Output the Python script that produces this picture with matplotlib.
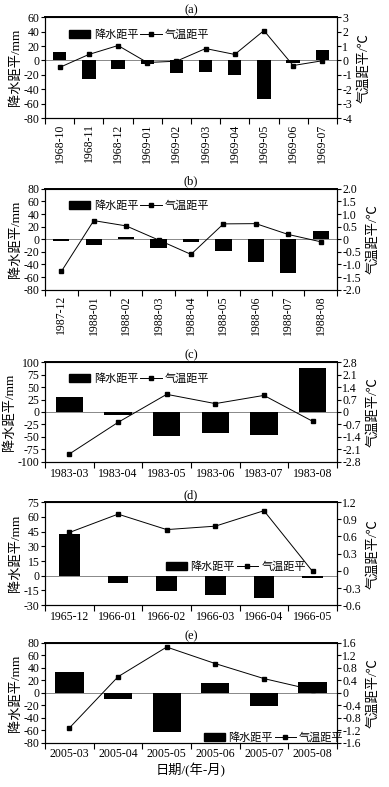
import matplotlib
matplotlib.use("Agg")
import matplotlib.pyplot as plt
from matplotlib.lines import Line2D
from matplotlib.patches import Patch
import numpy as np

plt.rcParams['font.family'] = ['Liberation Serif', 'Noto Sans CJK SC']
plt.rcParams['font.size'] = 8.5
plt.rcParams['axes.unicode_minus'] = False

# (a)
months_a = ['1968-10', '1968-11', '1968-12', '1969-01', '1969-02',
            '1969-03', '1969-04', '1969-05', '1969-06', '1969-07']
rain_a = [12, -26, -12, -5.5, -17, -16, -20, -53.5, -3, 15]
temp_a = [-0.48, 0.42, 1.04, -0.14, -0.05, 0.83, 0.42, 2.08, -0.35, -0.02]

# (b)
months_b = ['1987-12', '1988-01', '1988-02', '1988-03', '1988-04',
            '1988-05', '1988-06', '1988-07', '1988-08']
rain_b = [-2.5, -9, 3.7, -14, -4.8, -18, -35.5, -53, 12.7]
temp_b = [-1.28, 0.74, 0.53, -0.03, -0.6, 0.61, 0.62, 0.19, -0.1]

# (c)
months_c = ['1983-03', '1983-04', '1983-05', '1983-06', '1983-07', '1983-08']
rain_c = [31, -6, -48.7, -42, -46.7, 88.7]
temp_c = [-2.35, -0.58, 0.99, 0.47, 0.93, -0.52]

# (d)
months_d = ['1965-12', '1966-01', '1966-02', '1966-03', '1966-04', '1966-05']
rain_d = [42.6, -7.6, -15.2, -19.7, -22.5, -2.8]
temp_d = [0.67, 0.99, 0.72, 0.78, 1.05, -0.01]

# (e)
months_e = ['2005-03', '2005-04', '2005-05', '2005-06', '2005-07', '2005-08']
rain_e = [33.6, -10, -62.4, 15.5, -21.3, 17]
temp_e = [-1.12, 0.52, 1.47, 0.94, 0.46, 0.1]

panels = [
    dict(tag='(a)', months=months_a, rain=rain_a, temp=temp_a,
         ylim=(-80, 60), yticks=np.arange(-80, 61, 20),
         tlim=(-4, 3), tticks=np.arange(-4, 3.1, 1), tfmt='%d',
         rot=90, width=0.46, box=[0.116, 0.850, 0.750, 0.128],
         leg=(0.06, 0.95)),
    dict(tag='(b)', months=months_b, rain=rain_b, temp=temp_b,
         ylim=(-80, 80), yticks=np.arange(-80, 81, 20),
         tlim=(-2, 2), tticks=np.arange(-2, 2.01, 0.5), tfmt='%.1f',
         rot=90, width=0.5, box=[0.116, 0.632, 0.750, 0.128],
         leg=(0.06, 0.95)),
    dict(tag='(c)', months=months_c, rain=rain_c, temp=temp_c,
         ylim=(-100, 100), yticks=np.arange(-100, 101, 25),
         tlim=(-2.8, 2.8), tticks=np.arange(-2.8, 2.81, 0.7), tfmt='%.1f',
         rot=0, width=0.56, box=[0.116, 0.413, 0.750, 0.127],
         leg=(0.06, 0.95)),
    dict(tag='(d)', months=months_d, rain=rain_d, temp=temp_d,
         ylim=(-30, 75), yticks=np.arange(-30, 76, 15),
         tlim=(-0.6, 1.2), tticks=np.arange(-0.6, 1.21, 0.3), tfmt='%.1f',
         rot=0, width=0.42, box=[0.116, 0.231, 0.750, 0.131],
         leg=(0.39, 0.49)),
    dict(tag='(e)', months=months_e, rain=rain_e, temp=temp_e,
         ylim=(-80, 80), yticks=np.arange(-80, 81, 20),
         tlim=(-1.6, 1.6), tticks=np.arange(-1.6, 1.61, 0.4), tfmt='%.1f',
         rot=0, width=0.58, box=[0.116, 0.056, 0.750, 0.127],
         leg=(0.52, 0.17)),
]

fig = plt.figure(figsize=(3.89, 7.87), dpi=100)

for p in panels:
    ax = fig.add_axes(p['box'])
    n = len(p['months'])
    x = np.arange(n)
    ax.bar(x, p['rain'], width=p['width'], color='black', zorder=2)
    ax.axhline(0, color='#888888', lw=0.7, zorder=1)
    ax.set_xlim(-0.5, n - 0.5)
    ax.set_ylim(*p['ylim'])
    ax.set_yticks(p['yticks'])
    ax.set_yticklabels(['%d' % v for v in p['yticks']])
    # boundary ticks, centred labels
    ax.set_xticks(np.arange(-0.5, n, 1.0))
    ax.set_xticklabels([])
    ax.set_xticks(x, minor=True)
    ax.set_xticklabels(p['months'], minor=True, rotation=p['rot'])
    ax.tick_params(axis='x', which='minor', length=0, pad=4)
    ax.tick_params(axis='x', which='major', length=4, direction='out')
    ax.tick_params(axis='y', length=3, direction='out', pad=1)
    ax.set_ylabel('降水距平/mm', fontsize=9.5, labelpad=1)
    ax.set_title(p['tag'], fontsize=9, pad=3)
    for s in ax.spines.values():
        s.set_linewidth(0.8)
    ax.spines['top'].set_linewidth(1.4)

    ax2 = ax.twinx()
    ax2.plot(x, p['temp'], color='black', lw=0.7, marker='s', ms=3, zorder=3)
    ax2.set_ylim(*p['tlim'])
    ax2.set_yticks(p['tticks'])
    ax2.set_yticklabels([('0' if abs(v) < 1e-9 else p['tfmt'] % v) for v in p['tticks']])
    ax2.tick_params(axis='y', length=3, direction='out', pad=1)
    ax2.set_ylabel('气温距平/℃', fontsize=9.5, rotation=90, labelpad=4)

    handles = [Patch(facecolor='black', edgecolor='black'),
               Line2D([], [], color='black', lw=0.7, marker='s', ms=3)]
    ax.legend(handles, ['降水距平', '气温距平'], loc='upper left',
              bbox_to_anchor=p['leg'], ncol=2, frameon=False,
              handlelength=1.9, handleheight=0.7, columnspacing=0.2,
              handletextpad=0.3, borderpad=0.1, fontsize=8)

    if p['tag'] == '(e)':
        ax.set_xlabel('日期/(年-月)', fontsize=9.5, labelpad=2)

fig.savefig('out.png', dpi=100)
